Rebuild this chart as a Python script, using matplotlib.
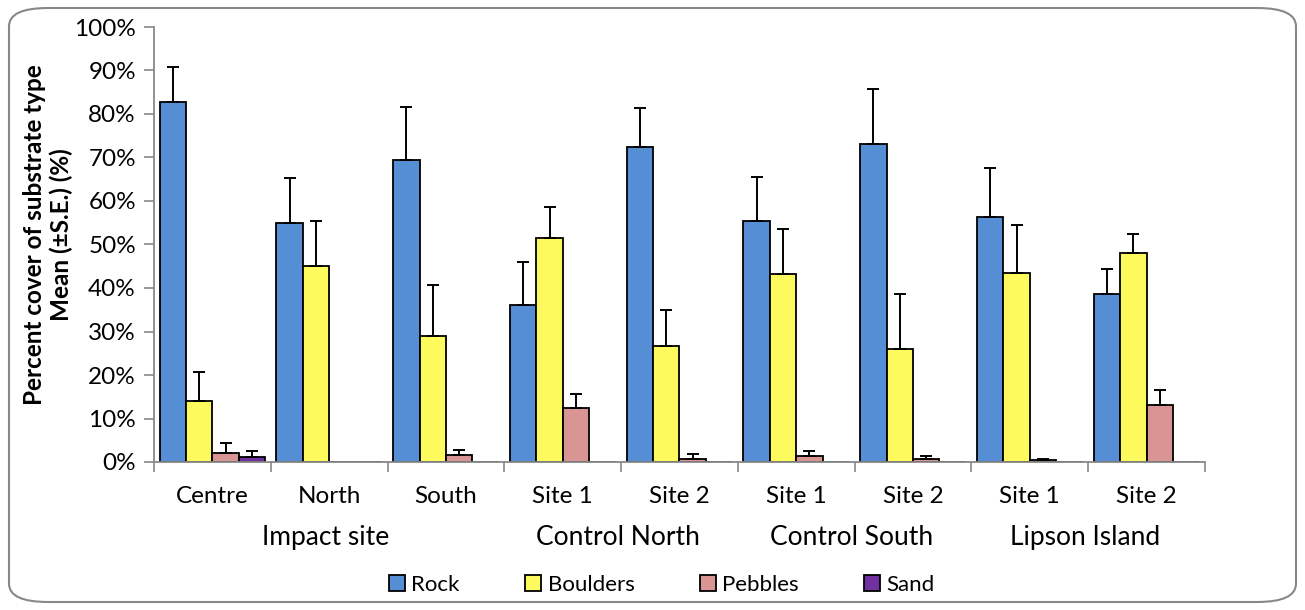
import numpy as np
import matplotlib
matplotlib.use("Agg")
import matplotlib.pyplot as plt
from matplotlib.patches import FancyBboxPatch

plt.rcParams['font.family'] = ['Lato', 'DejaVu Sans']

sites = ['Centre', 'North', 'South', 'Site 1', 'Site 2', 'Site 1', 'Site 2', 'Site 1', 'Site 2']
locations = ['Impact site', 'Control North', 'Control South', 'Lipson Island']
location_span = [(0, 2), (3, 4), (5, 6), (7, 8)]

substrates = ['Rock', 'Boulders', 'Pebbles', 'Sand']
colors = ['#558ED5', '#FCFA5C', '#D99594', '#7030A0']

# mean cover (%) and upper S.E. limit (%)
rock = [82.7, 54.9, 69.5, 36.2, 72.5, 55.3, 73.1, 56.3, 38.7]
rock_hi = [90.8, 65.4, 81.5, 45.9, 81.4, 65.5, 85.7, 67.5, 44.3]
boulders = [14.0, 45.1, 28.9, 51.4, 26.6, 43.2, 26.0, 43.4, 48.1]
boulders_hi = [20.7, 55.4, 40.7, 58.6, 34.9, 53.6, 38.6, 54.5, 52.4]
pebbles = [2.1, 0.0, 1.6, 12.3, 0.8, 1.3, 0.8, 0.4, 13.1]
pebbles_hi = [4.4, 0.0, 2.7, 15.6, 1.8, 2.5, 1.3, 0.7, 16.6]
sand = [1.1, 0, 0, 0, 0, 0, 0, 0, 0]
sand_hi = [2.5, 0, 0, 0, 0, 0, 0, 0, 0]

means = [rock, boulders, pebbles, sand]
uppers = [rock_hi, boulders_hi, pebbles_hi, sand_hi]

fig = plt.figure(figsize=(13.05, 6.1), dpi=100)
ax = fig.add_axes([154 / 1305, 1 - 462 / 610, (1205 - 154) / 1305, (462 - 27) / 610])

x = np.arange(len(sites))
w = 0.226
for i, (name, m, hi, c) in enumerate(zip(substrates, means, uppers, colors)):
    m = np.array(m)
    err = np.array(hi) - m
    pos = x + (i - 1.5) * w
    ax.bar(pos, m, w, color=c, edgecolor='black', linewidth=1.3, label=name, zorder=2)
    show = m > 0
    ax.errorbar(pos[show], m[show], yerr=[np.zeros(show.sum()), err[show]],
                fmt='none', ecolor='black', elinewidth=1.4, capsize=4.5, capthick=1.4, zorder=3)

ax.set_xlim(-0.5, len(sites) - 0.5)
ax.set_ylim(0, 100)
ax.set_yticks(np.arange(0, 101, 10))
ax.set_yticklabels([f'{v}%' for v in range(0, 101, 10)], fontsize=17.5)
ax.set_xticks(np.arange(-0.5, len(sites), 1))
ax.set_xticklabels([])
ax.tick_params(axis='both', direction='out', length=7, color='#888888', width=1.2)
ax.tick_params(axis='y', pad=6)
for s in ['top', 'right']:
    ax.spines[s].set_visible(False)
for s in ['left', 'bottom']:
    ax.spines[s].set_color('#888888')
    ax.spines[s].set_linewidth(1.3)

for xi, s in zip(x, sites):
    ax.text(xi, -8, s, ha='center', va='center', fontsize=17.5, clip_on=False)
for loc, (a, b) in zip(locations, location_span):
    ax.text((a + b) / 2 - 0.03, -17.4, loc, ha='center', va='center', fontsize=19, clip_on=False)

fig.text(35 / 1305, 1 - 235 / 610, 'Percent cover of substrate type', rotation=90,
         ha='center', va='center', fontsize=17.5, fontweight='bold')
fig.text(61 / 1305, 1 - 235 / 610, 'Mean (\u00b1S.E.) (%)', rotation=90,
         ha='center', va='center', fontsize=17.5, fontweight='bold')

fig.legend(loc='center', bbox_to_anchor=(662 / 1305, 1 - 585 / 610), ncol=4, frameon=False,
           fontsize=16, handlelength=0.7, handleheight=0.7, handletextpad=0.3,
           columnspacing=2.95)

border = FancyBboxPatch((9 / 1305, 8 / 610), 1287 / 1305, 594 / 610,
                        boxstyle='round,pad=0,rounding_size=0.03', transform=fig.transFigure,
                        facecolor='none', edgecolor='#888888', linewidth=1.5)
fig.patches.append(border)

fig.savefig('out.png', dpi=100)
